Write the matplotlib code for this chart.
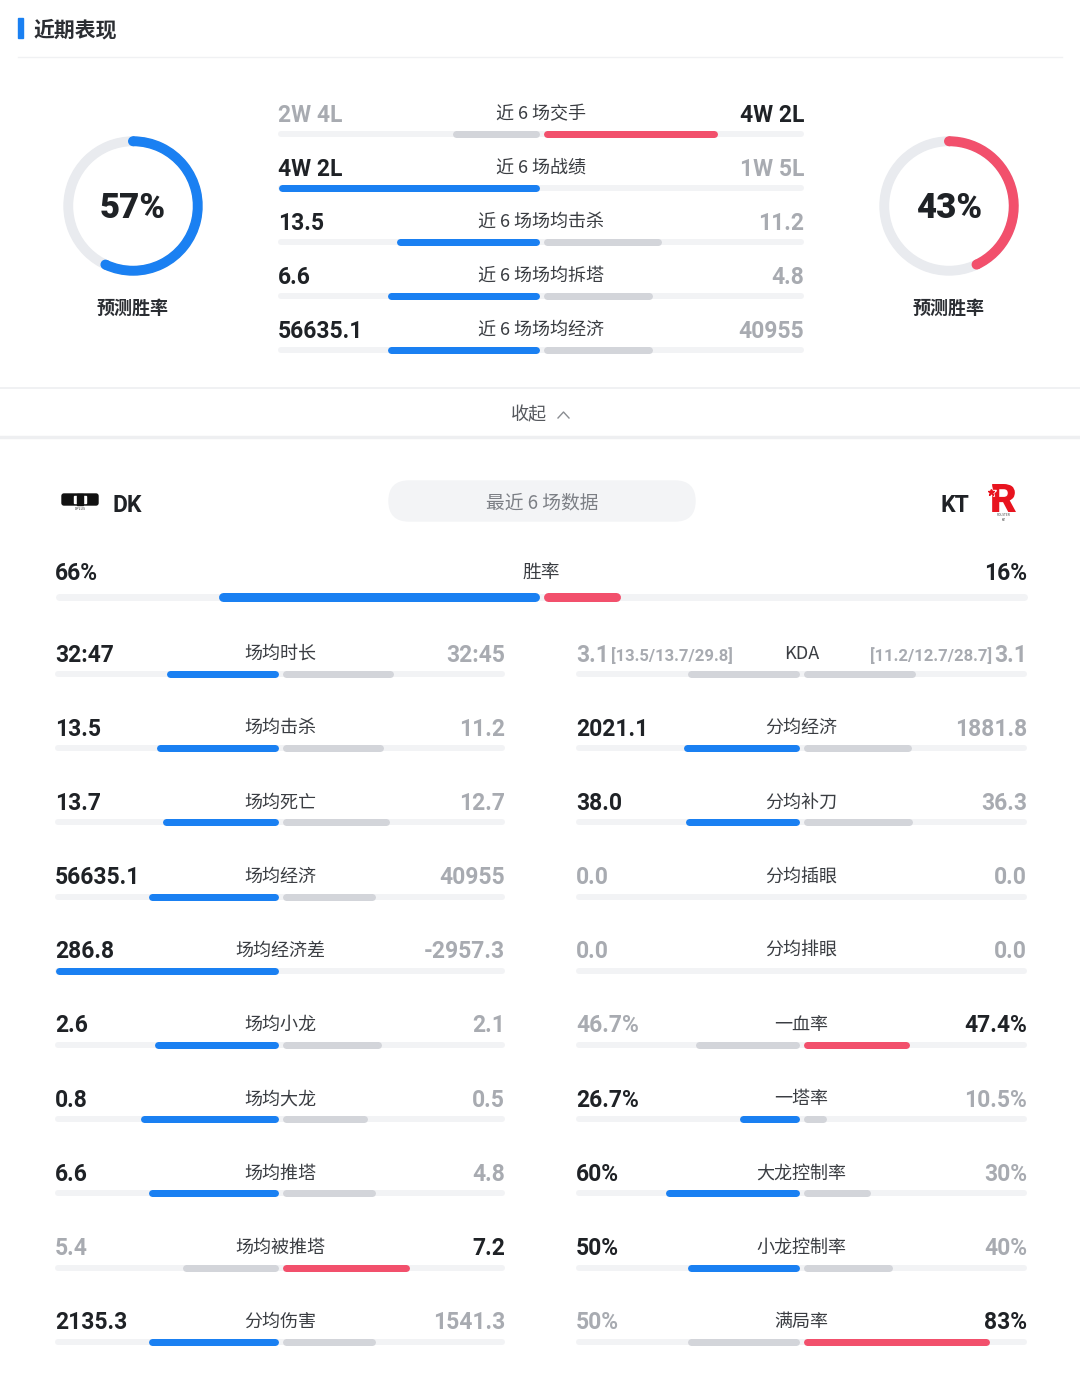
import matplotlib
matplotlib.use("Agg")
import matplotlib.pyplot as plt
from matplotlib.patches import FancyBboxPatch, Rectangle, Wedge, PathPatch
from matplotlib.textpath import TextPath
from matplotlib.font_manager import FontProperties
from matplotlib.transforms import Affine2D
import numpy as np

plt.rcParams['font.family'] = ['Noto Sans CJK SC', 'DejaVu Sans']

# ---------------- data ----------------
title = "近期表现"
pred_label = "预测胜率"
pred_left = 57
pred_right = 43

top_labels = ["近 6 场交手", "近 6 场战绩", "近 6 场场均击杀", "近 6 场场均拆塔", "近 6 场场均经济"]
top_left_vals = ["2W 4L", "4W 2L", "13.5", "6.6", "56635.1"]
top_right_vals = ["4W 2L", "1W 5L", "11.2", "4.8", "40955"]
top_left_share = [0.333, 1.0, 0.547, 0.579, 0.580]
top_right_share = [0.667, 0.0, 0.453, 0.421, 0.420]
top_winner = ["R", "L", "L", "L", "L"]

collapse_text = "收起"
team_left = "DK"
team_right = "KT"
pill_text = "最近 6 场数据"

wr_label = "胜率"
wr_left = 66
wr_right = 16

lc_labels = ["场均时长", "场均击杀", "场均死亡", "场均经济", "场均经济差",
             "场均小龙", "场均大龙", "场均推塔", "场均被推塔", "分均伤害"]
lc_left_vals = ["32:47", "13.5", "13.7", "56635.1", "286.8", "2.6", "0.8", "6.6", "5.4", "2135.3"]
lc_right_vals = ["32:45", "11.2", "12.7", "40955", "-2957.3", "2.1", "0.5", "4.8", "7.2", "1541.3"]
lc_left_share = [0.50, 0.547, 0.519, 0.580, 1.0, 0.553, 0.615, 0.579, 0.429, 0.581]
lc_right_share = [0.50, 0.453, 0.481, 0.420, 0.0, 0.447, 0.385, 0.421, 0.571, 0.419]
lc_winner = ["L", "L", "L", "L", "L", "L", "L", "L", "R", "L"]

rc_labels = ["KDA", "分均经济", "分均补刀", "分均插眼", "分均排眼",
             "一血率", "一塔率", "大龙控制率", "小龙控制率", "满局率"]
rc_left_vals = ["3.1", "2021.1", "38.0", "0.0", "0.0", "46.7%", "26.7%", "60%", "50%", "50%"]
rc_right_vals = ["3.1", "1881.8", "36.3", "0.0", "0.0", "47.4%", "10.5%", "30%", "40%", "83%"]
rc_left_extra = ["[13.5/13.7/29.8]", "", "", "", "", "", "", "", "", ""]
rc_right_extra = ["[11.2/12.7/28.7]", "", "", "", "", "", "", "", "", ""]
rc_left_share = [0.50, 0.518, 0.511, 0.0, 0.0, 0.467, 0.267, 0.60, 0.50, 0.50]
rc_right_share = [0.50, 0.482, 0.489, 0.0, 0.0, 0.474, 0.105, 0.30, 0.40, 0.83]
rc_winner = ["", "L", "L", "", "", "R", "L", "L", "L", "R"]

# ---------------- style ----------------
BLUE = "#1a80f2"
RED = "#f2506c"
GRAY_BAR = "#d3d5da"
TRACK = "#f2f3f5"
DARK = "#1f2226"
GRAY_TXT = "#a8abb1"
LABEL = "#3a3d42"
NUMFONT = ['Roboto', 'DejaVu Sans']
W, H = 1080, 1379
TY = 2  # text vertical nudge

fig = plt.figure(figsize=(W / 100, H / 100), dpi=100)
ax = fig.add_axes([0, 0, 1, 1])
ax.set_xlim(0, W)
ax.set_ylim(H, 0)
ax.axis('off')

PX2PT = 72 / 100.0
BAR_PX = 7


def hbar(x0, x1, y, color, z=2, h=BAR_PX):
    if x1 - x0 <= 0.5:
        return
    r = h / 2
    a, b = x0 + r, x1 - r
    if b < a:
        a = b = (x0 + x1) / 2
    ax.plot([a, b], [y, y], color=color, lw=h * PX2PT, solid_capstyle='round', zorder=z)


def versus_row(xl, xr, ty, by, label, lv, rv, ls, rs, win, lextra="", rextra="", lab_fs=13):
    cx = (xl + xr) / 2
    half = (xr - xl) / 2
    hbar(xl, xr, by, TRACK, z=1, h=6)
    lcol = BLUE if win == "L" else GRAY_BAR
    rcol = RED if win == "R" else GRAY_BAR
    hbar(cx - 2 - ls * (half - 2), cx - 2, by, lcol)
    hbar(cx + 2, cx + 2 + rs * (half - 2), by, rcol)
    lt = DARK if win == "L" else GRAY_TXT
    rt = DARK if win == "R" else GRAY_TXT
    ax.text(xl, ty + TY, lv, color=lt, fontsize=16.5, fontweight='bold', family=NUMFONT, ha='left', va='center')
    if lextra:
        ax.text(xl + 35, ty + TY + 1, lextra, color=lt, fontsize=12, fontweight='bold', family=NUMFONT,
                ha='left', va='center')
    ax.text(xr, ty + TY, rv, color=rt, fontsize=16.5, fontweight='bold', family=NUMFONT, ha='right', va='center')
    if rextra:
        ax.text(xr - 35, ty + TY + 1, rextra, color=rt, fontsize=12, fontweight='bold', family=NUMFONT,
                ha='right', va='center')
    ax.text(cx, ty + TY - 1, label, color=LABEL, fontsize=lab_fs, ha='center', va='center')


# ---------------- header ----------------
ax.add_patch(Rectangle((18, 18), 5, 20, color=BLUE, zorder=3))
ax.text(34, 28 + TY, title, fontsize=15, fontweight='bold', color="#2b2e33", ha='left', va='center')
ax.plot([18, 1062], [57, 57], color="#f0f1f3", lw=1)


# ---------------- prediction rings ----------------
def ring(cx, cy, pct, color):
    R, wd = 69, 8.5
    ax.add_patch(Wedge((cx, cy), R, 0, 360, width=wd, color="#e9ebef", zorder=2))
    start = -90
    end = -90 + 360 * pct / 100
    ax.add_patch(Wedge((cx, cy), R, start, end, width=wd, color=color, zorder=3))
    rm = R - wd / 2
    for ang in (start, end):
        a = np.deg2rad(ang)
        ax.add_patch(plt.Circle((cx + rm * np.cos(a), cy + rm * np.sin(a)), wd / 2, color=color, zorder=3))
    ax.text(cx, cy + 3, f"{pct}%", fontsize=25, fontweight='black', family=NUMFONT, color=DARK,
            ha='center', va='center', zorder=4)
    ax.text(cx, cy + 100 + TY, pred_label, fontsize=13, fontweight='bold', color="#2b2e33",
            ha='center', va='center')


ring(133, 206, pred_left, BLUE)
ring(949, 206, pred_right, RED)

# ---------------- top compare rows ----------------
for i in range(len(top_labels)):
    ty = 113 + 54 * i
    versus_row(278, 804, ty, ty + 21, top_labels[i], top_left_vals[i], top_right_vals[i],
               top_left_share[i], top_right_share[i], top_winner[i], lab_fs=13)

# ---------------- collapse band ----------------
ax.plot([0, W], [388, 388], color="#eeeff1", lw=1.2)
ax.plot([0, W], [437, 437], color="#eeeff1", lw=2.5)
ax.text(529, 413 + TY, collapse_text, fontsize=13, color="#55585d", ha='center', va='center')
ax.plot([558, 563.5, 569], [418, 412, 418], color="#8a8d92", lw=1.0)

# ---------------- teams ----------------
ax.add_patch(FancyBboxPatch((62, 494), 36, 11, boxstyle="round,pad=0,rounding_size=2", color="#111111", zorder=3))
ax.add_patch(Rectangle((74, 496), 12, 7, color="white", zorder=4))
ax.add_patch(Rectangle((77, 494), 6, 11, color="#111111", zorder=5))
ax.text(80, 509, "DPLUS", fontsize=2.5, color="#333", ha='center', va='center')
ax.text(112, 504 + TY, team_left, fontsize=16.5, fontweight='bold', family=NUMFONT, color=DARK, ha='left', va='center')
ax.text(969, 504 + TY, team_right, fontsize=16.5, fontweight='bold', family=NUMFONT, color=DARK, ha='right', va='center')

# KT logo (drawn as a glyph shape)
rp = TextPath((0, 0), "R", size=40, prop=FontProperties(family='Roboto', weight='black'))
ext = rp.get_extents()
tr = (Affine2D().translate(-(ext.x0 + ext.x1) / 2, -ext.y0)
      .scale(1.05 * 28 / ext.height, -28 / ext.height).translate(1004, 512))
ax.add_patch(PathPatch(tr.transform_path(rp), color="#e8141f", lw=0, zorder=4))
ax.plot([991], [492], marker='*', color='white', ms=8, zorder=5)
ax.plot([991], [492], marker='*', color='#e8141f', ms=4.5, zorder=6)
ax.text(1004, 515, "ROLSTER", fontsize=2.3, color="#444", ha='center', va='center')
ax.text(1004, 520, "KT", fontsize=2.3, color="#222", ha='center', va='center')

# pill
ax.add_patch(FancyBboxPatch((389, 481), 306, 40, boxstyle="round,pad=0,rounding_size=20",
                            color="#f3f4f6", zorder=1))
ax.text(542, 501 + TY, pill_text, fontsize=13.5, color="#7c7f85", ha='center', va='center')

# ---------------- overall win rate ----------------
hbar(55, 1027, 597, TRACK, z=1, h=7)
wcx, whalf = 541, 486
hbar(wcx - 2 - wr_left / 100 * whalf, wcx - 2, 597, BLUE, h=9)
hbar(wcx + 2, wcx + 2 + wr_right / 100 * whalf, 597, RED, h=9)
ax.text(55, 571 + TY, f"{wr_left}%", fontsize=16.5, fontweight='bold', family=NUMFONT, color=DARK, ha='left', va='center')
ax.text(1027, 571 + TY, f"{wr_right}%", fontsize=16.5, fontweight='bold', family=NUMFONT, color=DARK, ha='right', va='center')
ax.text(541, 570 + TY, wr_label, fontsize=13.5, color=LABEL, ha='center', va='center')

# ---------------- bottom grid ----------------
for i in range(len(lc_labels)):
    ty = 653 + 74.2 * i
    versus_row(55, 505, ty, ty + 21, lc_labels[i], lc_left_vals[i], lc_right_vals[i],
               lc_left_share[i], lc_right_share[i], lc_winner[i])
    versus_row(576, 1027, ty, ty + 21, rc_labels[i], rc_left_vals[i], rc_right_vals[i],
               rc_left_share[i], rc_right_share[i], rc_winner[i],
               lextra=rc_left_extra[i], rextra=rc_right_extra[i])

fig.savefig("out.png", dpi=100, facecolor="white")
